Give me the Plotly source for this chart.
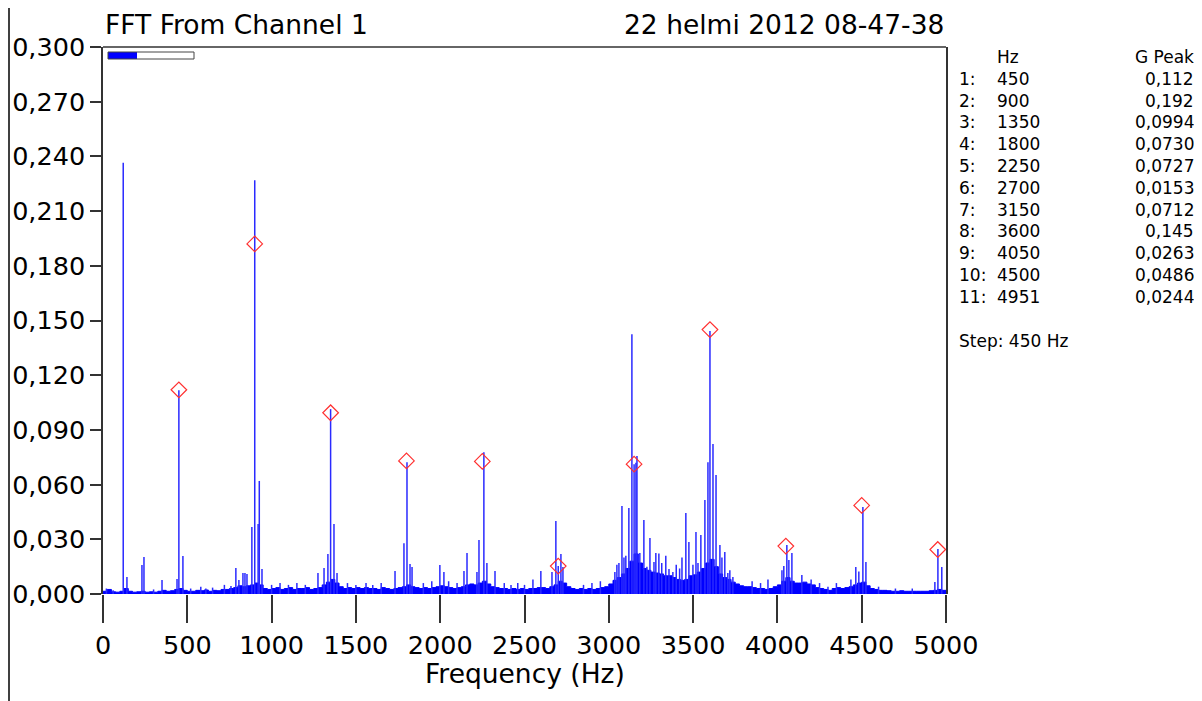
import plotly.graph_objects as go

# ---------------- data ----------------
TITLE = "FFT From Channel 1"
DATE_TEXT = "22 helmi 2012 08-47-38"

Y_TICKS = [0.0, 0.03, 0.06, 0.09, 0.12, 0.15, 0.18, 0.21, 0.24, 0.27, 0.30]
Y_TICK_TEXT = ["0,000", "0,030", "0,060", "0,090", "0,120", "0,150",
               "0,180", "0,210", "0,240", "0,270", "0,300"]
X_TICKS = [0, 500, 1000, 1500, 2000, 2500, 3000, 3500, 4000, 4500, 5000]
X_TICK_TEXT = ["0", "500", "1000", "1500", "2000", "2500", "3000",
               "3500", "4000", "4500", "5000"]

# broadband noise floor, one value every 25 Hz from 0 to 5000 Hz (G)
FLOOR_STEP_HZ = 25
FLOOR_G = [
    0.0015, 0.0025, 0.0012, 0.0010, 0.0015, 0.0030, 0.0015, 0.0010, 0.0012, 0.0015,
    0.0010, 0.0012, 0.0010, 0.0015, 0.0020, 0.0015, 0.0018, 0.0025, 0.0030, 0.0020,
    0.0015, 0.0015, 0.0020, 0.0018, 0.0022, 0.0015, 0.0020, 0.0018, 0.0025, 0.0025,
    0.0030, 0.0035, 0.0045, 0.0040, 0.0045, 0.0050, 0.0060, 0.0050, 0.0030, 0.0025,
    0.0030, 0.0035, 0.0025, 0.0030, 0.0035, 0.0025, 0.0030, 0.0030, 0.0035, 0.0025,
    0.0030, 0.0035, 0.0050, 0.0065, 0.0080, 0.0060, 0.0040, 0.0030, 0.0035, 0.0030,
    0.0035, 0.0030, 0.0035, 0.0030, 0.0030, 0.0025, 0.0035, 0.0030, 0.0025, 0.0030,
    0.0035, 0.0040, 0.0050, 0.0040, 0.0035, 0.0030, 0.0035, 0.0030, 0.0035, 0.0040,
    0.0045, 0.0040, 0.0035, 0.0030, 0.0035, 0.0040, 0.0050, 0.0055, 0.0050, 0.0060,
    0.0070, 0.0055, 0.0040, 0.0035, 0.0030, 0.0030, 0.0025, 0.0030, 0.0025, 0.0030,
    0.0025, 0.0030, 0.0030, 0.0035, 0.0035, 0.0030, 0.0040, 0.0050, 0.0070, 0.0060,
    0.0040, 0.0030, 0.0025, 0.0030, 0.0025, 0.0030, 0.0025, 0.0030, 0.0035, 0.0040,
    0.0055, 0.0075, 0.0090, 0.0110, 0.0140, 0.0180, 0.0220, 0.0170, 0.0140, 0.0130,
    0.0120, 0.0115, 0.0110, 0.0100, 0.0100, 0.0090, 0.0080, 0.0075, 0.0080, 0.0100,
    0.0105, 0.0120, 0.0140, 0.0170, 0.0190, 0.0150, 0.0110, 0.0090, 0.0080, 0.0065,
    0.0055, 0.0045, 0.0040, 0.0040, 0.0035, 0.0030, 0.0030, 0.0025, 0.0030, 0.0040,
    0.0050, 0.0070, 0.0090, 0.0070, 0.0060, 0.0060, 0.0065, 0.0055, 0.0050, 0.0035,
    0.0030, 0.0025, 0.0020, 0.0030, 0.0035, 0.0030, 0.0035, 0.0040, 0.0050, 0.0060,
    0.0065, 0.0045, 0.0030, 0.0025, 0.0020, 0.0020, 0.0018, 0.0015, 0.0015, 0.0018,
    0.0015, 0.0015, 0.0015, 0.0015, 0.0015, 0.0015, 0.0018, 0.0020, 0.0025, 0.0020,
    0.0015,
]

# individual spectral lines (Hz, G)
LINE_HZ = [
    20, 60, 120, 142, 231, 243, 300, 350, 439, 450, 474, 520, 580, 610, 650, 720,
    759, 788, 806, 830, 842, 854, 883, 900, 920, 927, 943, 1000, 1050, 1100, 1150,
    1200, 1275, 1311, 1334, 1350, 1370, 1388, 1450, 1500, 1560, 1600, 1650, 1732,
    1785, 1803, 1821, 1833, 1900, 1950, 1998, 2022, 2050, 2100, 2141, 2159, 2218,
    2230, 2259, 2277, 2325, 2380, 2420, 2460, 2500, 2550, 2597, 2663, 2686, 2700,
    2716, 2728, 2850, 2900, 2950, 3036, 3048, 3060, 3078, 3090, 3101, 3119, 3137,
    3150, 3161, 3167, 3184, 3208, 3226, 3244, 3268, 3279, 3297, 3314, 3338, 3357,
    3380, 3400, 3420, 3434, 3457, 3475, 3499, 3517, 3529, 3546, 3570, 3588, 3600,
    3618, 3636, 3659, 3671, 3688, 3706, 3718, 3736, 3850, 3900, 3944, 4027, 4038,
    4056, 4068, 4086, 4145, 4200, 4250, 4300, 4350, 4436, 4465, 4483, 4507, 4525,
    4600, 4700, 4800, 4934, 4952, 4975,
]
LINE_G = [
    0.0030, 0.0020, 0.2365, 0.0093, 0.0159, 0.0203, 0.0025, 0.0077, 0.0082, 0.1118,
    0.0208, 0.0030, 0.0040, 0.0030, 0.0035, 0.0050, 0.0044, 0.0142, 0.0077, 0.0115,
    0.0115, 0.0110, 0.0367, 0.2269, 0.0384, 0.0620, 0.0137, 0.0050, 0.0060, 0.0050,
    0.0060, 0.0050, 0.0115, 0.0143, 0.0219, 0.1014, 0.0384, 0.0115, 0.0060, 0.0050,
    0.0060, 0.0050, 0.0060, 0.0126, 0.0279, 0.0723, 0.0164, 0.0148, 0.0060, 0.0070,
    0.0159, 0.0120, 0.0070, 0.0060, 0.0126, 0.0225, 0.0120, 0.0296, 0.0778, 0.0170,
    0.0126, 0.0060, 0.0050, 0.0060, 0.0050, 0.0080, 0.0126, 0.0120, 0.0400, 0.0153,
    0.0219, 0.0148, 0.0050, 0.0060, 0.0070, 0.0120, 0.0160, 0.0170, 0.0483, 0.0200,
    0.0210, 0.0471, 0.1425, 0.0712, 0.0720, 0.0757, 0.0225, 0.0406, 0.0150, 0.0307,
    0.0175, 0.0225, 0.0222, 0.0170, 0.0210, 0.0137, 0.0120, 0.0160, 0.0140, 0.0200,
    0.0444, 0.0285, 0.0160, 0.0340, 0.0170, 0.0323, 0.0515, 0.0723, 0.1442, 0.0822,
    0.0652, 0.0269, 0.0200, 0.0230, 0.0115, 0.0130, 0.0093, 0.0070, 0.0060, 0.0080,
    0.0130, 0.0153, 0.0269, 0.0186, 0.0225, 0.0104, 0.0080, 0.0060, 0.0040, 0.0060,
    0.0080, 0.0148, 0.0123, 0.0477, 0.0175, 0.0040, 0.0030, 0.0030, 0.0066, 0.0247,
    0.0148,
]

# harmonic peak table (right-hand panel and red diamond markers)
PEAK_INDEX = ["1:", "2:", "3:", "4:", "5:", "6:", "7:", "8:", "9:", "10:", "11:"]
PEAK_HZ = [450, 900, 1350, 1800, 2250, 2700, 3150, 3600, 4050, 4500, 4951]
PEAK_G = [0.112, 0.192, 0.0994, 0.0730, 0.0727, 0.0153, 0.0712, 0.145, 0.0263, 0.0486, 0.0244]
PEAK_G_TEXT = ["0,112", "0,192", "0,0994", "0,0730", "0,0727", "0,0153",
               "0,0712", "0,145", "0,0263", "0,0486", "0,0244"]
STEP_TEXT = "Step: 450 Hz"

# ---------------- figure ----------------
# the page body adds an 8 px margin, so the figure is drawn 8 px smaller
OFF = 8
W, H = 1202 - OFF, 701 - OFF
# plot area in reference-screen pixels
RL, RR, RT, RB = 103, 946, 47, 594
L, R, T, B = RL - OFF, RR - OFF, RT - OFF, RB - OFF
PW, PH = R - L, B - T


def px(x_screen):
    return (x_screen - OFF - L) / PW


def py(y_screen):
    return (B - (y_screen - OFF)) / PH


FONT = "DejaVu Sans"
BLUE = "#0000ff"

fig = go.Figure()

floor_hz = [i * FLOOR_STEP_HZ for i in range(len(FLOOR_G))]
fig.add_trace(go.Scatter(
    x=floor_hz, y=FLOOR_G, mode="lines", line=dict(color=BLUE, width=1, shape="hv"),
    fill="tozeroy", fillcolor=BLUE, hoverinfo="skip", showlegend=False))

stem_x, stem_y = [], []
for f, g in zip(LINE_HZ, LINE_G):
    stem_x += [f, f, None]
    stem_y += [0, g, None]
fig.add_trace(go.Scatter(
    x=stem_x, y=stem_y, mode="lines", line=dict(color="#2a2aff", width=1.5),
    hoverinfo="skip", showlegend=False))

fig.add_trace(go.Scatter(
    x=PEAK_HZ, y=PEAK_G, mode="markers",
    marker=dict(symbol="diamond-open", size=12, color="#ff3030", line=dict(width=1.2)),
    showlegend=False))

axis_col = "#333333"
TICK_FONT = dict(family=FONT, size=25.5, color="#000000")
BIG_FONT = dict(family=FONT, size=26.5, color="#000000")
fig.update_xaxes(
    range=[0, 5000], tickvals=X_TICKS, ticktext=X_TICK_TEXT,
    ticks="outside", ticklen=28, tickwidth=1.5, tickcolor=axis_col,
    showline=False, showgrid=False, zeroline=False, automargin=False,
    tickfont=TICK_FONT,
)
fig.update_yaxes(
    range=[0, 0.3], tickvals=Y_TICKS, ticktext=Y_TICK_TEXT,
    ticks="outside", ticklen=11, tickwidth=1.5, tickcolor=axis_col,
    showline=True, linecolor=axis_col, linewidth=1.5, mirror=True,
    showgrid=False, zeroline=False, automargin=False,
    tickfont=TICK_FONT,
)

shapes = [
    # top frame line of the plot
    dict(type="line", xref="paper", yref="paper", x0=0, x1=1, y0=1, y1=1,
         line=dict(color=axis_col, width=1.5)),
    # outer window border (left)
    dict(type="line", xref="paper", yref="paper", x0=px(9), x1=px(9), y0=py(701), y1=py(8),
         line=dict(color="#000000", width=1.5)),
    # small progress bar in the top-left corner
    dict(type="rect", xref="paper", yref="paper", x0=px(108), x1=px(137),
         y0=py(59), y1=py(52), fillcolor=BLUE, line=dict(width=0)),
    dict(type="rect", xref="paper", yref="paper", x0=px(108), x1=px(194),
         y0=py(59), y1=py(52), fillcolor="rgba(0,0,0,0)", line=dict(color="#444444", width=1)),
]

ann = []
ann.append(dict(text=TITLE, x=px(103), y=py(25), xanchor="left", yanchor="middle", font=BIG_FONT))
ann.append(dict(text=DATE_TEXT, x=px(946), y=py(25), xanchor="right", yanchor="middle", font=BIG_FONT))
ann.append(dict(text="Frequency (Hz)", x=px(525), y=py(673), xanchor="center", yanchor="middle", font=BIG_FONT))

panel_font = dict(family=FONT, size=17, color="#000000")
ann.append(dict(text="Hz", x=px(995), y=py(57), xanchor="left", yanchor="middle", font=panel_font))
ann.append(dict(text="G Peak", x=px(1196), y=py(57), xanchor="right", yanchor="middle", font=panel_font))
row_y = [79, 101, 122.5, 144, 166, 188, 209.5, 231, 253, 275, 297]
for i in range(len(PEAK_HZ)):
    yy = py(row_y[i])
    ann.append(dict(text=PEAK_INDEX[i], x=px(957), y=yy, xanchor="left", yanchor="middle", font=panel_font))
    ann.append(dict(text=str(PEAK_HZ[i]), x=px(995), y=yy, xanchor="left", yanchor="middle", font=panel_font))
    ann.append(dict(text=PEAK_G_TEXT[i], x=px(1196), y=yy, xanchor="right", yanchor="middle", font=panel_font))
ann.append(dict(text=STEP_TEXT, x=px(957), y=py(341), xanchor="left", yanchor="middle", font=panel_font))

for a in ann:
    a.update(xref="paper", yref="paper", showarrow=False)

fig.update_layout(
    width=W, height=H,
    margin=dict(l=L, r=W - R, t=T, b=H - B),
    paper_bgcolor="white", plot_bgcolor="white",
    shapes=shapes, annotations=ann,
    showlegend=False,
)

fig.write_html("out.html")
